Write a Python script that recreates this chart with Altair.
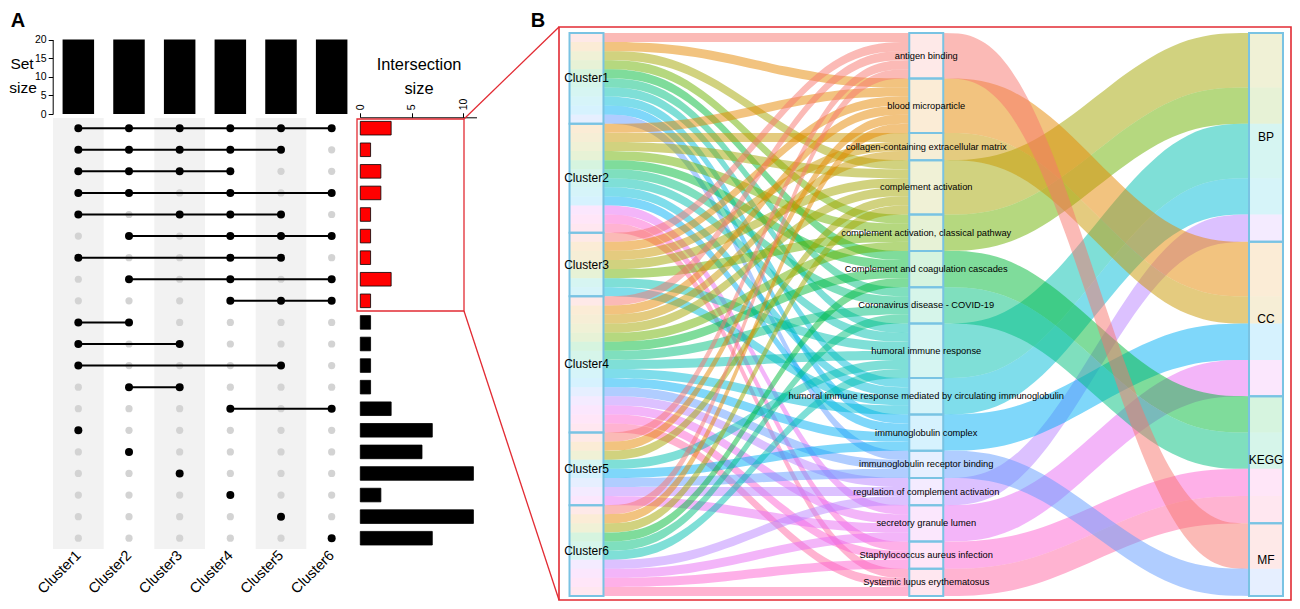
import altair as alt
import pandas as pd

FONT = "Liberation Sans"
CLUSTERS = ["Cluster1", "Cluster2", "Cluster3", "Cluster4", "Cluster5", "Cluster6"]
SET_SIZES = [20, 20, 20, 20, 20, 20]
INTERSECTIONS = [
    [1, 2, 3, 4, 5, 6], [1, 2, 3, 4, 5], [1, 2, 3, 4], [1, 2, 4, 6], [1, 3, 4, 5],
    [2, 4, 5, 6], [1, 4, 5], [2, 4, 6], [4, 5, 6], [1, 2], [1, 3], [1, 5], [2, 3],
    [4, 6], [1], [2], [3], [4], [5], [6],
]
INTERSECTION_SIZES = [3, 1, 2, 2, 1, 1, 1, 3, 1, 1, 1, 1, 1, 3, 7, 6, 11, 2, 11, 7]
HIGHLIGHTED = 9

TERMS = [
    "antigen binding", "blood microparticle", "collagen-containing extracellular matrix",
    "complement activation", "complement activation, classical pathway",
    "Complement and coagulation cascades", "Coronavirus disease - COVID-19",
    "humoral immune response", "humoral immune response mediated by circulating immunoglobulin",
    "immunoglobulin complex", "immunoglobulin receptor binding",
    "regulation of complement activation", "secretory granule lumen",
    "Staphylococcus aureus infection", "Systemic lupus erythematosus",
]
TERM_COLORS = ["#F8766D", "#E58700", "#C99800", "#A3A500", "#6BB100", "#00BA38", "#00BF7D",
               "#00C0AF", "#00BCD8", "#00B0F6", "#619CFF", "#B983FF", "#E76BF3", "#FD61D1", "#FF67A4"]
# term indices linked to each cluster
CLUSTER_TERMS = [
    [0, 1, 3, 4, 5, 6, 7, 8, 9, 10],
    [1, 2, 3, 4, 5, 6, 7, 8, 9, 12, 13, 14],
    [0, 1, 2, 3, 4, 7, 8],
    [0, 1, 2, 3, 4, 5, 6, 7, 8, 9, 10, 11, 12, 13, 14],
    [0, 1, 3, 7, 9, 10, 11, 12],
    [0, 1, 3, 5, 6, 7, 11, 12, 13, 14],
]
CATEGORIES = ["BP", "CC", "KEGG", "MF"]
CATEGORY_TERMS = [[3, 4, 7, 8, 11], [1, 2, 9, 12], [5, 6, 13, 14], [0, 10]]

# ---- tables built from the lists above
links = [(c, t) for c, ts in enumerate(CLUSTER_TERMS) for t in ts]
term_size = [sum(1 for _, t in links if t == i) for i in range(len(TERMS))]
term_top = [sum(term_size[:i]) for i in range(len(TERMS))]
total = sum(term_size)

flows, tints, strata, labels = [], [], [], []
term_used = [0] * len(TERMS)
pos = 0
for c, ts in enumerate(CLUSTER_TERMS):
    strata.append(dict(stage=0, top=pos, bottom=pos + len(ts)))
    labels.append(dict(stage=0, mid=pos + len(ts) / 2, name=CLUSTERS[c]))
    for t in ts:
        end = term_top[t] + term_used[t]
        term_used[t] += 1
        flows.append(dict(id=len(flows), term=TERMS[t], s0=0.05, s1=0.95, y0=pos, y1=end, w=1))
        tints.append(dict(stage=0, top=pos, bottom=pos + 1, term=TERMS[t]))
        pos += 1
for i, t in enumerate(TERMS):
    strata.append(dict(stage=1, top=term_top[i], bottom=term_top[i] + term_size[i]))
    tints.append(dict(stage=1, top=term_top[i], bottom=term_top[i] + term_size[i], term=t))
pos = 0
for k, ts in enumerate(CATEGORY_TERMS):
    size = sum(term_size[t] for t in ts)
    strata.append(dict(stage=2, top=pos, bottom=pos + size))
    labels.append(dict(stage=2, mid=pos + size / 2, name=CATEGORIES[k]))
    for t in ts:
        flows.append(dict(id=len(flows), term=TERMS[t], s0=1.05, s1=1.95, y0=term_top[t], y1=pos, w=term_size[t]))
        tints.append(dict(stage=2, top=pos, bottom=pos + term_size[t], term=TERMS[t]))
        pos += term_size[t]

flows = pd.DataFrame(flows)
tints = pd.DataFrame(tints)
strata = pd.DataFrame(strata)
for d in (tints, strata):
    d["left"] = d["stage"] - 0.05
    d["right"] = d["stage"] + 0.05
labels = pd.DataFrame(labels)
term_labels = pd.DataFrame(dict(stage=1, mid=[term_top[i] + term_size[i] / 2 for i in range(len(TERMS))], name=TERMS))

rows = list(range(1, len(INTERSECTIONS) + 1))
bars = pd.DataFrame(dict(row=rows, size=INTERSECTION_SIZES))
bars["kind"] = ["red" if r <= HIGHLIGHTED else "black" for r in rows]
grid = pd.DataFrame([dict(row=r, cluster=CLUSTERS[c - 1], member=c in INTERSECTIONS[r - 1])
                     for r in rows for c in range(1, 7)])
sets = pd.DataFrame(dict(cluster=CLUSTERS, size=SET_SIZES))

# ---- scales, with ranges in the chart's pixels
O = 8
sx = alt.Scale(domain=[0, 2], range=[586.5 - O, 1266 - O], nice=False, zero=False)
sy = alt.Scale(domain=[0, total], range=[33 - O, 596 - O], nice=False, zero=False)
cx = alt.Scale(domain=CLUSTERS, range=[53 - O, 357 - O], paddingInner=0, paddingOuter=0)
ry = alt.Scale(domain=rows, range=[117.4 - O, 549 - O], paddingInner=0, paddingOuter=0)
setY = alt.Scale(domain=[0, 20], range=[114 - O, 39.5 - O], nice=False)
intX = alt.Scale(domain=[0, 11.3], range=[360.3 - O, 476.5 - O], nice=False)
col = alt.Color("term:N", scale=alt.Scale(domain=TERMS, range=TERM_COLORS), legend=None)


def text(s, x, y, size, **kw):
    return alt.Chart(pd.DataFrame(dict(t=[s]))).mark_text(font=FONT, fontSize=size, color="black", **kw).encode(
        x=alt.value(x - O), y=alt.value(y - O), text="t:N")


layers = []
# stripes
layers.append(alt.Chart(pd.DataFrame(dict(cluster=CLUSTERS[0::2]))).mark_rect(color="#F2F2F2").encode(
    x=alt.X("cluster:N", scale=cx, axis=None),
    y=alt.value(118 - O), y2=alt.value(549 - O)))
# set-size bars
layers.append(alt.Chart(sets).mark_bar(color="black", size=31.5).encode(
    x=alt.X("cluster:N", scale=cx, axis=None),
    y=alt.Y("size:Q", scale=setY, axis=alt.Axis(
        orient="left", offset=-(52.7 - O), values=[0, 5, 10, 15, 20], title=None, grid=False,
        labelFont=FONT, labelFontSize=10.5, labelColor="black", tickColor="black", domainColor="black",
        tickSize=4.5, labelPadding=2, labelOverlap=False))))
# matrix
layers.append(alt.Chart(grid[~grid.member]).mark_circle(color="#D3D3D3", size=52, opacity=1).encode(
    x=alt.X("cluster:N", scale=cx, axis=alt.Axis(
        orient="bottom", offset=-(601 - 549), title=None, domain=False, ticks=False, grid=False, labelAngle=-45,
        labelFont=FONT, labelFontSize=14.5, labelColor="black", labelAlign="right", labelBaseline="middle",
        labelPadding=4)),
    y=alt.Y("row:O", scale=ry, axis=None)))
layers.append(alt.Chart(grid[grid.member]).mark_line(color="black", strokeWidth=2).encode(
    x=alt.X("cluster:N", scale=cx, axis=None),
    y=alt.Y("row:O", scale=ry, axis=None),
    detail="row:O"))
layers.append(alt.Chart(grid[grid.member]).mark_circle(color="black", size=64, opacity=1).encode(
    x=alt.X("cluster:N", scale=cx, axis=None),
    y=alt.Y("row:O", scale=ry, axis=None)))
# intersection bars
layers.append(alt.Chart(bars).mark_bar(size=13.6, stroke="black", strokeWidth=0.8).encode(
    x=alt.X("size:Q", scale=intX, axis=alt.Axis(
        orient="top", offset=-(117.3 - O), values=[0, 5, 10], title=None, grid=False, labelAngle=-90,
        labelFont=FONT, labelFontSize=10.5, labelColor="black", tickColor="black", domainColor="black",
        tickSize=4.5, labelPadding=3, labelAlign="left", labelBaseline="middle")),
    y=alt.Y("row:O", scale=ry, axis=None),
    color=alt.Color("kind:N", scale=alt.Scale(domain=["red", "black"], range=["#FF0000", "black"]), legend=None)))
# sankey ribbons
layers.append(alt.Chart(flows).transform_calculate(t="sequence(0, 1.0001, 0.05)").transform_flatten(["t"]).transform_calculate(
    s="datum.t*datum.t*datum.t*(datum.t*(6*datum.t-15)+10)",
    px="datum.s0+datum.t*(datum.s1-datum.s0)",
).transform_calculate(
    top="datum.y0+datum.s*(datum.y1-datum.y0)",
).transform_calculate(
    bot="datum.top+datum.w",
).mark_area(opacity=0.5, interpolate="monotone").encode(
    x=alt.X("px:Q", scale=sx, axis=None),
    y=alt.Y("top:Q", scale=sy, axis=None, stack=None),
    y2="bot:Q",
    color=col,
    detail="id:N"))
# strata
layers.append(alt.Chart(tints).mark_rect(opacity=0.16).encode(
    x=alt.X("left:Q", scale=sx, axis=None), x2="right:Q",
    y=alt.Y("top:Q", scale=sy, axis=None), y2="bottom:Q", color=col))
layers.append(alt.Chart(strata).mark_rect(fillOpacity=0, stroke="#79C3E3", strokeWidth=2).encode(
    x=alt.X("left:Q", scale=sx, axis=None), x2="right:Q",
    y=alt.Y("top:Q", scale=sy, axis=None), y2="bottom:Q"))
layers.append(alt.Chart(term_labels).mark_text(font=FONT, fontSize=9.3, color="black").encode(
    x=alt.X("stage:Q", scale=sx, axis=None),
    y=alt.Y("mid:Q", scale=sy, axis=None), text="name:N"))
layers.append(alt.Chart(labels).mark_text(font=FONT, fontSize=12, color="black").encode(
    x=alt.X("stage:Q", scale=sx, axis=None),
    y=alt.Y("mid:Q", scale=sy, axis=None), text="name:N"))
# zoom frames
RED = "#E22B33"
layers.append(alt.Chart(pd.DataFrame(dict(a=[0]))).mark_rect(fillOpacity=0, stroke=RED, strokeWidth=1.3).encode(
    x=alt.value(357 - O), x2=alt.value(464 - O), y=alt.value(119 - O), y2=alt.value(311 - O)))
layers.append(alt.Chart(pd.DataFrame(dict(a=[0]))).mark_rect(fillOpacity=0, stroke=RED, strokeWidth=1.6).encode(
    x=alt.value(559 - O), x2=alt.value(1291 - O), y=alt.value(27 - O), y2=alt.value(600 - O)))
layers.append(alt.Chart(pd.DataFrame(dict(a=[0]))).mark_rule(color=RED, strokeWidth=1.3).encode(
    x=alt.value(464 - O), x2=alt.value(559 - O), y=alt.value(119 - O), y2=alt.value(27 - O)))
layers.append(alt.Chart(pd.DataFrame(dict(a=[0]))).mark_rule(color=RED, strokeWidth=1.3).encode(
    x=alt.value(464 - O), x2=alt.value(559 - O), y=alt.value(311 - O), y2=alt.value(600 - O)))
# titles (the page margin keeps text out of the outer 8 px)
layers += [
    text("A", 18, 20.5, 20, fontWeight="bold"),
    text("B", 538, 20.5, 20, fontWeight="bold"),
    text("Set", 22, 63.5, 15.5),
    text("size", 23, 87.5, 15.5),
    text("Intersection", 419, 64.5, 16.4),
    text("size", 419, 88.5, 16.4),
]

chart = alt.layer(*layers).resolve_scale(x="independent", y="independent", color="independent").properties(
    width=1284, height=593, padding=0,
    autosize=alt.AutoSizeParams(type="none"), background="white"
).configure_view(stroke=None)

chart.save("out.html", embed_options={"renderer": "svg", "actions": False})
